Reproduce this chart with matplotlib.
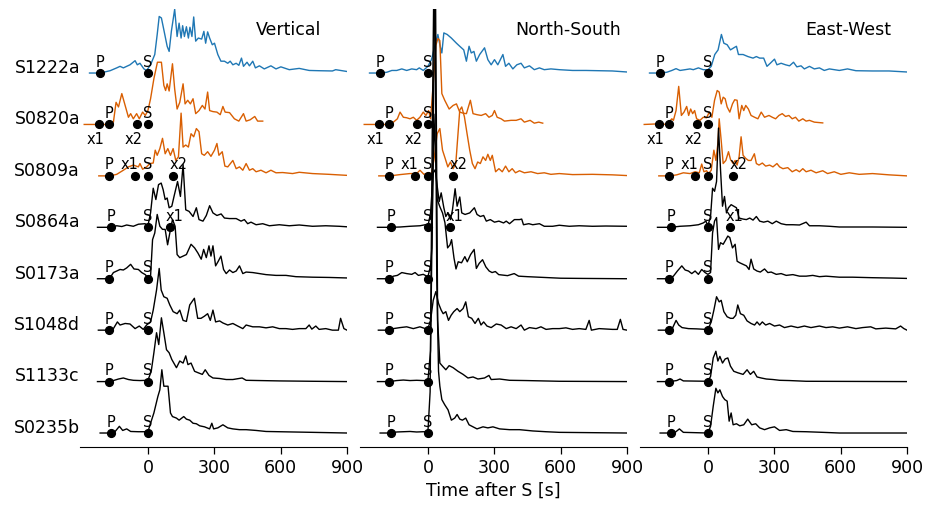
import matplotlib
matplotlib.use("Agg")
import matplotlib.pyplot as plt
from matplotlib.transforms import blended_transform_factory

# ---------------- data ----------------
stations = ["S1222a", "S0820a", "S0809a", "S0864a", "S0173a", "S1048d", "S1133c", "S0235b"]
station_colors = ["#1f77b4", "#d95f02", "#d95f02", "black", "black", "black", "black", "black"]
components = ["Vertical", "North-South", "East-West"]

P_times = [-216, -177, -174, -168, -174, -177, -174, -168]
S_times = [0, 0, 0, 0, 0, 0, 0, 0]
x1_times = [None, -220, -60, 99, None, None, None, None]
x2_times = [None, -50, 115, None, None, None, None, None]
x_label_side = ["above", "below", "above", "above", "above", "above", "above", "above"]

# ---- Vertical ----
Z_S1222a_t = [-264, -216, -171, -141, -126, -111, -81, -58, -48, -36, -18, -6, 12, 31, 42, 51, 61, 72, 87, 96, 106, 121, 132, 141, 150, 157, 165, 174, 183, 190, 199, 207, 216, 228, 243, 253, 261, 270, 279, 291, 301, 316, 330, 346, 361, 372, 384, 399, 411, 423, 432, 448, 459, 474, 486, 504, 526, 556, 579, 601, 639, 684, 729, 774, 834, 849, 900]
Z_S1222a_a = [0, 0, 0.045, 0.1, 0.13, 0.1, 0.16, 0.24, 0.16, 0.19, 0.08, 0.05, 0.16, 0.36, 0.75, 1.1, 1.07, 0.84, 0.52, 0.42, 0.81, 1.24, 0.71, 0.97, 0.68, 0.92, 0.71, 0.9, 0.68, 0.89, 0.71, 1.09, 0.62, 0.68, 0.66, 0.81, 0.58, 0.8, 0.68, 0.55, 0.58, 0.36, 0.23, 0.23, 0.19, 0.23, 0.16, 0.19, 0.15, 0.29, 0.13, 0.21, 0.14, 0.23, 0.1, 0.14, 0.08, 0.14, 0.08, 0.12, 0.065, 0.09, 0.05, 0.045, 0.04, 0.065, 0.03]

Z_S0820a_t = [-288, -186, -156, -144, -133, -118, -103, -88, -78, -66, -51, -39, -24, -12, 0, 12, 27, 43, 61, 72, 80, 87, 96, 111, 121, 132, 144, 159, 168, 180, 192, 204, 216, 231, 246, 258, 270, 279, 294, 312, 327, 339, 349, 369, 391, 411, 432, 444, 462, 483, 496, 519]
Z_S0820a_a = [0, 0, 0.045, 0.43, 0.34, 0.6, 0.37, 0.14, 0.21, 0.11, 0.21, 0.11, 0.24, 0.175, 0.27, 0.5, 0.89, 1.21, 1.21, 0.76, 0.66, 0.79, 0.65, 1.18, 0.69, 0.3, 0.43, 0.79, 0.4, 0.47, 0.4, 0.5, 0.21, 0.27, 0.37, 0.3, 0.63, 0.27, 0.25, 0.24, 0.19, 0.35, 0.24, 0.23, 0.11, 0.065, 0.21, 0.065, 0.09, 0.155, 0.065, 0.065]

Z_S0809a_t = [-222, -171, -141, -111, -88, -66, -43, -36, -24, -6, 9, 24, 33, 42, 54, 66, 78, 90, 102, 114, 126, 138, 150, 159, 171, 183, 195, 207, 219, 231, 243, 255, 270, 285, 301, 312, 321, 336, 348, 361, 384, 399, 414, 429, 444, 459, 474, 489, 511, 534, 556, 579, 609, 654, 684, 744, 819, 900]
Z_S0809a_a = [0, 0, 0.03, 0.11, 0.175, 0.21, 0.175, 0.24, 0.13, 0.175, 0.24, 0.25, 0.5, 0.4, 0.53, 0.73, 0.43, 0.53, 0.4, 0.53, 0.3, 0.37, 1.22, 0.56, 0.6, 0.56, 0.82, 0.76, 0.92, 0.86, 0.43, 0.4, 0.47, 0.38, 0.5, 0.63, 0.4, 0.47, 0.19, 0.175, 0.3, 0.14, 0.175, 0.11, 0.24, 0.11, 0.14, 0.08, 0.11, 0.06, 0.11, 0.06, 0.065, 0.045, 0.07, 0.045, 0.03, 0.01]

Z_S0864a_t = [-228, -168, -141, -118, -96, -66, -43, -13, 0, 12, 24, 36, 48, 60, 69, 78, 87, 96, 108, 118, 134, 147, 159, 171, 186, 204, 219, 231, 249, 264, 279, 294, 312, 331, 346, 369, 399, 421, 436, 451, 466, 489, 519, 549, 594, 639, 684, 744, 804, 864, 900]
Z_S0864a_a = [0, 0, 0.03, 0.015, 0.045, 0.02, 0.06, 0.07, 0.03, 0.28, 0.76, 0.54, 0.83, 0.86, 0.73, 0.54, 0.57, 0.38, 0.41, 0.6, 0.89, 0.6, 1.22, 0.34, 0.31, 0.21, 0.38, 0.15, 0.12, 0.23, 0.42, 0.28, 0.23, 0.26, 0.18, 0.17, 0.17, 0.12, 0.15, 0.07, 0.1, 0.05, 0.07, 0.03, 0.05, 0.03, 0.045, 0.02, 0.03, 0.02, 0.01]

Z_S0173a_t = [-228, -174, -156, -141, -126, -111, -96, -78, -63, -43, -28, -12, 0, 12, 21, 31, 42, 54, 66, 78, 89, 99, 111, 123, 132, 144, 159, 174, 195, 211, 226, 241, 252, 264, 276, 285, 294, 306, 318, 330, 342, 354, 369, 384, 399, 414, 429, 444, 474, 504, 534, 579, 624, 669, 744, 819, 900]
Z_S0173a_a = [0, 0, 0.12, 0.15, 0.18, 0.17, 0.21, 0.28, 0.19, 0.18, 0.12, 0.08, 0.02, 0.05, 0.76, 0.89, 1.25, 1.02, 0.96, 0.96, 0.66, 0.89, 1.15, 1.02, 0.47, 0.41, 0.44, 0.47, 0.67, 0.6, 0.5, 0.38, 0.57, 0.41, 0.64, 0.44, 0.64, 0.25, 0.34, 0.44, 0.18, 0.1, 0.17, 0.12, 0.15, 0.25, 0.1, 0.13, 0.12, 0.1, 0.08, 0.065, 0.065, 0.04, 0.03, 0.025, 0.015]

Z_S1048d_t = [-224, -177, -156, -138, -126, -103, -81, -58, -39, -21, -6, 12, 24, 39, 51, 60, 72, 87, 99, 114, 132, 144, 159, 174, 189, 210, 225, 240, 255, 270, 282, 294, 306, 324, 339, 361, 384, 406, 429, 444, 474, 504, 534, 564, 594, 624, 654, 684, 714, 729, 741, 759, 774, 804, 834, 861, 871, 886, 900]
Z_S1048d_a = [0, 0, 0.03, 0.16, 0.1, 0.13, 0.12, 0.03, 0.08, 0.015, 0.1, 0.16, 0.39, 0.78, 1.2, 0.78, 0.65, 0.62, 0.49, 0.36, 0.32, 0.39, 0.19, 0.17, 0.49, 0.62, 0.23, 0.23, 0.27, 0.32, 0.19, 0.39, 0.16, 0.18, 0.14, 0.1, 0.13, 0.08, 0.03, 0.1, 0.065, 0.065, 0.045, 0.065, 0.03, 0.03, 0.015, 0.03, 0.03, 0.1, 0.02, 0.08, 0.015, 0.03, 0, 0, 0.23, 0.03, 0]

Z_S1133c_t = [-228, -174, -156, -133, -111, -88, -66, -36, 0, 15, 27, 39, 49, 61, 72, 84, 96, 108, 129, 144, 159, 171, 181, 195, 211, 228, 246, 259, 276, 294, 324, 354, 384, 426, 444, 504, 594, 744, 900]
Z_S1133c_a = [0, 0, 0.02, 0.05, 0.07, 0.04, 0.025, 0.02, 0.025, 0.2, 0.56, 0.95, 0.72, 1.24, 0.95, 0.62, 0.56, 0.43, 0.27, 0.4, 0.36, 0.5, 0.33, 0.36, 0.2, 0.17, 0.14, 0.23, 0.12, 0.07, 0.06, 0.04, 0.04, 0.07, 0.025, 0.02, 0.013, 0.006, 0]

Z_S0235b_t = [-216, -168, -148, -129, -114, -96, -78, -43, 0, 12, 27, 45, 54, 63, 72, 91, 102, 111, 129, 141, 153, 162, 174, 189, 204, 219, 234, 256, 279, 289, 297, 316, 339, 361, 384, 414, 444, 489, 534, 594, 744, 900]
Z_S0235b_a = [0, 0, 0.03, 0.13, 0.05, 0.08, 0.03, 0.025, 0.025, 0.19, 0.39, 0.71, 0.84, 1.23, 0.91, 0.91, 0.39, 0.32, 0.29, 0.25, 0.29, 0.32, 0.27, 0.25, 0.19, 0.18, 0.14, 0.12, 0.08, 0.19, 0.08, 0.1, 0.16, 0.1, 0.08, 0.065, 0.065, 0.05, 0.03, 0.025, 0.013, 0]

# ---- North-South ----
N_S1222a_t = [-264, -216, -186, -163, -141, -118, -96, -73, -51, -39, -21, 0, 16, 31, 45, 54, 63, 72, 87, 106, 129, 144, 162, 174, 186, 196, 208, 219, 234, 256, 271, 286, 301, 316, 339, 351, 366, 384, 402, 421, 436, 459, 481, 504, 526, 556, 594, 654, 714, 774, 834, 900]
N_S1222a_a = [0, 0, 0.015, 0.05, 0.05, 0.08, 0.05, 0.08, 0.065, 0.1, 0.05, 0.13, 0.26, 0.52, 0.75, 0.55, 0.39, 0.78, 0.75, 0.68, 0.58, 0.52, 0.45, 0.23, 0.52, 0.39, 0.42, 0.23, 0.36, 0.49, 0.26, 0.16, 0.26, 0.16, 0.36, 0.13, 0.19, 0.08, 0.16, 0.19, 0.1, 0.14, 0.065, 0.1, 0.065, 0.08, 0.065, 0.05, 0.05, 0.045, 0.04, 0.02]

N_S0820a_t = [-288, -186, -156, -138, -126, -111, -96, -81, -66, -51, -36, -21, -9, 3, 12, 24, 36, 45, 54, 63, 76, 96, 114, 129, 144, 159, 174, 192, 204, 222, 241, 261, 276, 291, 301, 313, 331, 346, 376, 399, 421, 436, 462, 481, 501, 519]
N_S0820a_a = [0, 0, 0.045, 0.11, 0.24, 0.14, 0.13, 0.11, 0.14, 0.08, 0.14, 0.24, 0.175, 0.27, 0.11, 0.79, 1.54, 1.67, 1.63, 0.6, 0.47, 0.3, 0.37, 0.4, 0.24, 0.22, 0.21, 0.47, 0.21, 0.19, 0.175, 0.21, 0.14, 0.175, 0.27, 0.14, 0.11, 0.065, 0.08, 0.08, 0.11, 0.045, 0.08, 0.025, 0.045, 0.025]

N_S0809a_t = [-222, -171, -126, -81, -51, -36, -18, 0, 15, 27, 42, 54, 66, 78, 90, 102, 114, 126, 135, 144, 153, 165, 177, 189, 201, 213, 225, 237, 249, 261, 271, 282, 291, 306, 321, 336, 351, 366, 381, 396, 414, 436, 466, 496, 526, 556, 594, 654, 744, 834, 900]
N_S0809a_a = [0, 0, 0.025, 0.045, 0.045, 0.11, 0.03, 0.06, 0.03, 0.3, 0.82, 0.92, 0.5, 0.34, 0.175, 0.27, 0.14, 0.24, 0.76, 1.28, 1.34, 1.15, 0.82, 0.5, 0.24, 0.14, 0.27, 0.24, 0.37, 0.3, 0.42, 0.3, 0.4, 0.08, 0.14, 0.08, 0.19, 0.08, 0.14, 0.06, 0.1, 0.06, 0.08, 0.045, 0.06, 0.03, 0.045, 0.025, 0.03, 0.02, 0.006]

N_S0864a_t = [-228, -168, -126, -81, -36, -12, 0, 12, 24, 33, 42, 51, 60, 72, 81, 90, 102, 111, 123, 132, 144, 153, 168, 189, 210, 222, 237, 252, 264, 282, 301, 321, 342, 354, 369, 391, 414, 424, 432, 456, 474, 504, 526, 564, 594, 639, 684, 744, 804, 900]
N_S0864a_a = [0, 0, 0.006, 0.02, 0.03, 0.05, 0.02, 0.28, 1.06, 1.12, 0.8, 0.5, 0.67, 0.38, 0.21, 0.28, 0.15, 0.34, 0.75, 0.41, 0.59, 0.28, 0.25, 0.28, 0.38, 0.25, 0.21, 0.23, 0.12, 0.15, 0.1, 0.12, 0.085, 0.12, 0.07, 0.15, 0.15, 0.16, 0.05, 0.07, 0.05, 0.07, 0.02, 0.02, 0.04, 0.02, 0.03, 0.02, 0.025, 0.02]

N_S0173a_t = [-228, -174, -156, -138, -118, -96, -73, -58, -43, -21, 0, 12, 18, 27, 36, 42, 54, 66, 77, 89, 100, 107, 118, 127, 137, 152, 167, 178, 193, 209, 219, 232, 247, 262, 277, 290, 305, 320, 340, 360, 390, 410, 450, 500, 600, 700, 900]
N_S0173a_a = [0, 0, 0.05, 0.065, 0.12, 0.1, 0.085, 0.12, 0.065, 0.085, 0.04, 0.25, 0.6, 3.2, 2.2, 1.54, 1.4, 1.28, 1.09, 0.6, 0.66, 0.76, 0.4, 0.19, 0.33, 0.31, 0.43, 0.33, 0.47, 0.57, 0.2, 0.3, 0.37, 0.23, 0.15, 0.12, 0.14, 0.08, 0.07, 0.06, 0.1, 0.05, 0.04, 0.03, 0.01, 0.006, 0]

N_S1048d_t = [-224, -177, -156, -126, -96, -66, -36, -12, 0, 12, 24, 36, 48, 60, 69, 81, 93, 105, 117, 132, 144, 159, 171, 183, 198, 213, 228, 240, 252, 267, 286, 309, 331, 354, 376, 399, 421, 436, 459, 489, 511, 534, 564, 594, 624, 654, 684, 714, 729, 739, 774, 834, 856, 870, 882, 900]
N_S1048d_a = [0, 0, 0.03, 0.05, 0.065, 0.03, 0.065, 0.03, 0.03, 0.19, 0.58, 0.75, 0.52, 0.39, 0.32, 0.36, 0.19, 0.29, 0.36, 0.42, 0.36, 0.42, 0.55, 0.26, 0.23, 0.13, 0.23, 0.1, 0.16, 0.08, 0.05, 0.12, 0.1, 0.03, 0.065, 0.03, 0.1, 0, 0.05, 0.03, 0.065, 0.015, 0.03, 0.03, 0.045, 0.015, 0.03, 0.015, 0.19, 0, 0.03, 0.015, 0.015, 0.21, 0.015, 0]

N_S1133c_t = [-228, -174, -141, -111, -81, -51, -21, 0, 12, 22, 33, 44, 54, 66, 81, 96, 114, 136, 159, 181, 204, 226, 256, 276, 286, 324, 369, 444, 594, 900]
N_S1133c_a = [0, 0, 0.02, 0.03, 0.02, 0.025, 0.02, 0.02, 0.6, 4.0, 8.5, 1.2, 0.36, 0.3, 0.23, 0.31, 0.27, 0.2, 0.14, 0.07, 0.09, 0.05, 0.07, 0.12, 0.04, 0.05, 0.025, 0.02, 0.006, 0]

N_S0235b_t = [-216, -168, -141, -111, -81, -51, -21, 0, 10, 20, 30, 40, 48, 54, 63, 76, 91, 106, 121, 132, 144, 156, 171, 186, 204, 222, 249, 271, 294, 324, 369, 414, 474, 534, 594, 900]
N_S0235b_a = [0, 0, 0.02, 0.025, 0.03, 0.02, 0.025, 0.02, 0.8, 6.0, 10.0, 3.0, 1.2, 0.91, 0.65, 0.55, 0.45, 0.25, 0.29, 0.36, 0.27, 0.25, 0.29, 0.16, 0.12, 0.08, 0.12, 0.1, 0.12, 0.08, 0.065, 0.065, 0.04, 0.025, 0.013, 0]

# ---- East-West ----
E_S1222a_t = [-264, -216, -186, -163, -144, -126, -103, -81, -66, -43, -21, 0, 15, 31, 46, 61, 72, 87, 102, 117, 129, 138, 159, 181, 204, 219, 234, 252, 267, 282, 301, 312, 331, 351, 369, 387, 402, 421, 436, 459, 481, 504, 526, 549, 594, 631, 669, 744, 819, 900]
E_S1222a_a = [0, 0, 0.015, 0.05, 0.085, 0.05, 0.065, 0.08, 0.065, 0.1, 0.065, 0.065, 0.13, 0.36, 0.45, 0.75, 0.58, 0.55, 0.45, 0.49, 0.52, 0.36, 0.36, 0.32, 0.29, 0.32, 0.29, 0.29, 0.13, 0.19, 0.27, 0.16, 0.19, 0.16, 0.14, 0.21, 0.12, 0.14, 0.08, 0.13, 0.08, 0.1, 0.05, 0.08, 0.05, 0.08, 0.045, 0.04, 0.04, 0.02]

E_S0820a_t = [-288, -216, -186, -163, -156, -144, -132, -120, -108, -96, -87, -78, -69, -60, -51, -36, -21, -6, 6, 18, 30, 42, 51, 60, 69, 78, 87, 99, 111, 121, 132, 141, 153, 162, 171, 183, 195, 211, 226, 241, 256, 276, 291, 306, 321, 336, 351, 366, 381, 396, 411, 429, 444, 459, 481, 519]
E_S0820a_a = [0, 0.013, 0, 0.11, 0.08, 0.27, 0.74, 0.175, 0.24, 0.35, 0.175, 0.3, 0.21, 0.27, 0.11, 0.08, 0.14, 0.13, 0.24, 0.14, 0.47, 0.66, 0.63, 0.4, 0.53, 0.5, 0.34, 0.24, 0.4, 0.48, 0.47, 0.11, 0.37, 0.27, 0.37, 0.3, 0.175, 0.14, 0.11, 0.24, 0.14, 0.175, 0.14, 0.11, 0.175, 0.21, 0.155, 0.175, 0.11, 0.14, 0.065, 0.11, 0.065, 0.08, 0.045, 0.03]

E_S0809a_t = [-222, -171, -141, -111, -81, -58, -39, -28, -18, -6, 3, 15, 27, 36, 45, 51, 60, 69, 81, 93, 102, 114, 123, 132, 141, 150, 159, 171, 183, 195, 210, 219, 231, 246, 261, 279, 294, 312, 324, 339, 361, 381, 399, 414, 429, 444, 466, 489, 519, 541, 571, 601, 639, 684, 744, 819, 900]
E_S0809a_a = [0, 0, 0.02, 0.06, 0.045, 0.08, 0.06, 0.23, 0.08, 0.1, 0.045, 0.11, 0.5, 0.3, 0.63, 1.11, 0.69, 0.24, 0.3, 0.47, 0.32, 0.24, 0.3, 0.21, 0.37, 0.76, 0.4, 0.34, 0.3, 0.3, 0.43, 0.24, 0.21, 0.25, 0.19, 0.21, 0.175, 0.24, 0.175, 0.14, 0.16, 0.08, 0.12, 0.08, 0.14, 0.08, 0.11, 0.06, 0.1, 0.045, 0.08, 0.03, 0.06, 0.03, 0.045, 0.02, 0]

E_S0864a_t = [-228, -168, -126, -81, -43, -21, -9, 0, 12, 21, 30, 39, 48, 57, 66, 75, 84, 93, 105, 117, 129, 141, 159, 174, 189, 204, 219, 234, 252, 271, 291, 309, 331, 354, 384, 414, 444, 459, 504, 549, 594, 744, 900]
E_S0864a_a = [0, 0, 0.02, 0.03, 0.05, 0.085, 0.12, 0.03, 0.21, 0.76, 0.7, 0.89, 1.93, 1.12, 0.41, 0.6, 0.28, 0.38, 0.44, 0.41, 0.38, 0.18, 0.16, 0.15, 0.18, 0.14, 0.21, 0.12, 0.1, 0.12, 0.07, 0.12, 0.07, 0.05, 0.05, 0.045, 0.1, 0.03, 0.03, 0.02, 0.006, 0.006, 0]

E_S0173a_t = [-228, -174, -156, -138, -118, -103, -88, -73, -58, -43, -28, -13, 0, 12, 21, 30, 39, 48, 57, 69, 81, 90, 99, 111, 123, 132, 144, 159, 174, 186, 195, 207, 222, 237, 256, 271, 286, 309, 331, 354, 384, 414, 444, 474, 504, 534, 594, 654, 744, 834, 900]
E_S0173a_a = [0, 0, 0.05, 0.15, 0.25, 0.17, 0.15, 0.1, 0.15, 0.085, 0.18, 0.12, 0.085, 0.12, 0.89, 1.12, 1.19, 0.57, 0.7, 0.67, 0.76, 0.83, 0.8, 0.6, 0.67, 0.34, 0.31, 0.28, 0.25, 0.18, 0.38, 0.19, 0.15, 0.13, 0.19, 0.12, 0.13, 0.085, 0.1, 0.065, 0.08, 0.05, 0.05, 0.065, 0.04, 0.05, 0.03, 0.03, 0.02, 0.013, 0.006]

E_S1048d_t = [-224, -177, -159, -144, -132, -117, -88, -51, 0, 15, 27, 39, 51, 60, 72, 87, 102, 114, 126, 135, 147, 162, 177, 195, 211, 222, 234, 246, 261, 279, 301, 324, 346, 376, 406, 436, 466, 504, 534, 564, 594, 631, 669, 699, 736, 759, 804, 849, 871, 886, 900]
E_S1048d_a = [0, 0, 0.05, 0.19, 0.1, 0.05, 0.03, 0.025, 0.013, 0.16, 0.39, 0.65, 0.55, 0.58, 0.36, 0.26, 0.23, 0.23, 0.29, 0.49, 0.32, 0.29, 0.18, 0.13, 0.1, 0.16, 0.1, 0.16, 0.1, 0.13, 0.08, 0.1, 0.05, 0.08, 0.05, 0.08, 0.05, 0.08, 0.05, 0.065, 0.04, 0.065, 0.03, 0.05, 0.065, 0.025, 0.04, 0.025, 0.08, 0.03, 0]

E_S1133c_t = [-228, -174, -141, -126, -111, 0, 12, 24, 36, 45, 54, 66, 78, 90, 102, 117, 136, 159, 177, 192, 207, 222, 241, 264, 294, 324, 369, 444, 900]
E_S1133c_a = [0, 0, 0.02, 0.05, 0.013, 0.006, 0.1, 0.46, 0.59, 0.4, 0.49, 0.36, 0.44, 0.46, 0.3, 0.2, 0.17, 0.14, 0.23, 0.14, 0.2, 0.09, 0.07, 0.05, 0.04, 0.025, 0.02, 0.006, 0]

E_S0235b_t = [-216, -168, -148, -129, -111, 0, 12, 24, 36, 45, 54, 66, 76, 87, 96, 105, 114, 129, 144, 162, 180, 198, 216, 234, 256, 279, 301, 324, 354, 384, 444, 519, 594, 900]
E_S0235b_a = [0, 0, 0.013, 0.08, 0.013, 0, 0.13, 0.52, 0.87, 0.78, 0.84, 0.71, 0.65, 0.62, 0.23, 0.39, 0.16, 0.18, 0.14, 0.16, 0.27, 0.16, 0.18, 0.1, 0.065, 0.1, 0.12, 0.05, 0.065, 0.03, 0.025, 0.013, 0, 0]

traces = {
    "Vertical": [(Z_S1222a_t, Z_S1222a_a), (Z_S0820a_t, Z_S0820a_a), (Z_S0809a_t, Z_S0809a_a),
                 (Z_S0864a_t, Z_S0864a_a), (Z_S0173a_t, Z_S0173a_a), (Z_S1048d_t, Z_S1048d_a),
                 (Z_S1133c_t, Z_S1133c_a), (Z_S0235b_t, Z_S0235b_a)],
    "North-South": [(N_S1222a_t, N_S1222a_a), (N_S0820a_t, N_S0820a_a), (N_S0809a_t, N_S0809a_a),
                    (N_S0864a_t, N_S0864a_a), (N_S0173a_t, N_S0173a_a), (N_S1048d_t, N_S1048d_a),
                    (N_S1133c_t, N_S1133c_a), (N_S0235b_t, N_S0235b_a)],
    "East-West": [(E_S1222a_t, E_S1222a_a), (E_S0820a_t, E_S0820a_a), (E_S0809a_t, E_S0809a_a),
                  (E_S0864a_t, E_S0864a_a), (E_S0173a_t, E_S0173a_a), (E_S1048d_t, E_S1048d_a),
                  (E_S1133c_t, E_S1133c_a), (E_S0235b_t, E_S0235b_a)],
}

xticks = [0, 300, 600, 900]

# ---------------- styling ----------------
FS = 12.5
MFS = 10.5
label_dx = {("S0820a", "x1"): -3, ("S0820a", "x2"): -2, ("S0809a", "x1"): -3.5,
            ("S0809a", "x2"): 3.5, ("S0864a", "x1"): 3.5}

fig = plt.figure(figsize=(9.34, 5.05), dpi=100)
lefts = [80 / 934, 360 / 934, 640 / 934]
W = 267 / 934
B = 58 / 505
H = 438 / 505

for ci, comp in enumerate(components):
    ax = fig.add_axes([lefts[ci], B, W, H])
    for i, st in enumerate(stations):
        off = -i
        t, a = traces[comp][i]
        ax.plot(t, [off + v for v in a], color=station_colors[i], lw=1.0, zorder=2)
        marks = [("P", P_times[i], "above"), ("S", S_times[i], "above")]
        if x1_times[i] is not None:
            marks.append(("x1", x1_times[i], x_label_side[i]))
        if x2_times[i] is not None:
            marks.append(("x2", x2_times[i], x_label_side[i]))
        for name, tm, side in marks:
            ax.plot([tm], [off], "o", color="black", ms=5.6, zorder=3)
            dx = label_dx.get((st, name), 0)
            if side == "above":
                ax.annotate(name, (tm, off), xytext=(dx, 4.6), textcoords="offset points",
                            ha="center", va="baseline", fontsize=MFS, zorder=4)
            else:
                ax.annotate(name, (tm, off), xytext=(dx, -5.5), textcoords="offset points",
                            ha="center", va="top", fontsize=MFS, zorder=4)
        if ci == 0:
            tr = blended_transform_factory(ax.transAxes, ax.transData)
            ax.text(0.0, off + 0.1, st, transform=tr, ha="right", va="center", fontsize=FS)
    ax.set_xlim(-307, 900)
    ax.set_ylim(-7.272, 1.245)
    ax.set_xticks(xticks)
    ax.set_xticklabels([str(v) for v in xticks], fontsize=FS)
    ax.set_yticks([])
    for s in ["left", "right", "top"]:
        ax.spines[s].set_visible(False)
    ax.tick_params(axis="x", length=4.8, width=0.9, pad=3.5)
    ax.text(0.78, 0.952, comp, transform=ax.transAxes, ha="center", va="center", fontsize=FS)
    if ci == 1:
        ax.set_xlabel("Time after S [s]", fontsize=FS, labelpad=4)

fig.savefig("out.png", dpi=100)
